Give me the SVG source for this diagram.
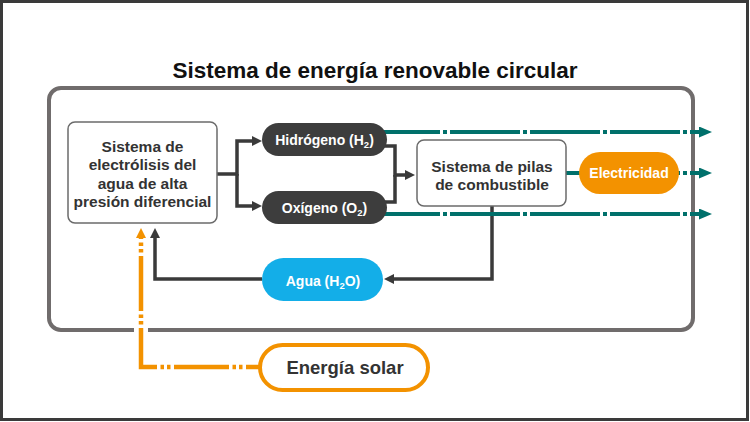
<svg xmlns="http://www.w3.org/2000/svg" width="750" height="422" viewBox="0 0 750 422">
<style>
text{font-family:"Liberation Sans",Arial,sans-serif;font-weight:700;text-anchor:middle}
.dk{fill:none;stroke:#3a3a3a;stroke-width:3.5;stroke-linejoin:miter}
.tl{fill:none;stroke:#00706b;stroke-width:4;stroke-dasharray:70 3 4 3}
.or{fill:none;stroke:#f39200;stroke-width:4.5;stroke-dasharray:55 3.5 3.5 3 3.5 3.5;stroke-dashoffset:39;stroke-linejoin:miter}
.box{fill:#fff;stroke:#6b6b6b;stroke-width:1.5}
.lbl{fill:#333;font-size:15.5px}
.wt{fill:#fff;font-size:14px}
</style>
<defs>
<marker id="ad" markerUnits="userSpaceOnUse" markerWidth="10" markerHeight="10" refX="4" refY="5" orient="auto"><path d="M0,0 L10,5 L0,10 z" fill="#3a3a3a"/></marker>
<marker id="at" markerUnits="userSpaceOnUse" markerWidth="13" markerHeight="11" refX="5" refY="5.5" orient="auto"><path d="M0,0 L13,5.5 L0,11 z" fill="#00706b"/></marker>
<marker id="ao" markerUnits="userSpaceOnUse" markerWidth="10" markerHeight="10" refX="4" refY="5" orient="auto"><path d="M0,0 L10,5 L0,10 z" fill="#f39200"/></marker>
</defs>
<rect x="0" y="0" width="750" height="422" fill="#fff"/>
<rect x="1.5" y="1.5" width="746" height="418" fill="none" stroke="#3a3a3a" stroke-width="3"/>
<text x="375" y="78" font-size="22.5" fill="#111">Sistema de energía renovable circular</text>
<rect id="frame" x="49" y="88" width="644" height="242" rx="12" fill="none" stroke="#706c6c" stroke-width="4"/>
<g id="connectors">
<path class="dk" d="M217 174 H237 V141 H256" marker-end="url(#ad)"/>
<path class="dk" d="M237 174 V206 H256" marker-end="url(#ad)"/>
<path class="dk" d="M380 146 H395 V175 H409" marker-end="url(#ad)"/>
<path class="dk" d="M380 202 H395 V175"/>
<path class="dk" d="M492 206 V279 H390" marker-end="url(#ad)"/>
<path class="dk" d="M262 279 H155 V234" marker-end="url(#ad)"/>
<path class="tl" d="M383 132 H704" style="stroke-dashoffset:13" marker-end="url(#at)"/>
<path class="tl" d="M383 214 H704" style="stroke-dashoffset:13" marker-end="url(#at)"/>
<path class="tl" d="M566 173 H704" style="stroke-dashoffset:36" marker-end="url(#at)"/>
<rect x="134" y="326" width="14" height="8" fill="#fff"/>
<path class="or" d="M262 367 H141 V234" marker-end="url(#ao)"/>
</g>
<g id="electrolisis">
<rect class="box" x="68" y="122" width="149" height="101" rx="7"/>
<text class="lbl" x="142.5" y="151.5">Sistema de</text>
<text class="lbl" x="142.5" y="170">electrólisis del</text>
<text class="lbl" x="142.5" y="188.5">agua de alta</text>
<text class="lbl" x="142.5" y="207">presión diferencial</text>
</g>
<g id="hidrogeno">
<rect x="262" y="123" width="125" height="33" rx="16.5" fill="#3d3d3d"/>
<text class="wt" x="324.5" y="145">Hidrógeno (H<tspan font-size="9.5" dy="3">2</tspan><tspan dy="-3">)</tspan></text>
</g>
<g id="oxigeno">
<rect x="262" y="191" width="125" height="33" rx="16.5" fill="#3d3d3d"/>
<text class="wt" x="324.5" y="212.5">Oxígeno (O<tspan font-size="9.5" dy="3">2</tspan><tspan dy="-3">)</tspan></text>
</g>
<g id="pilas">
<rect class="box" x="417" y="140" width="149" height="66" rx="7"/>
<text class="lbl" x="492" y="172" font-size="15">Sistema de pilas</text>
<text class="lbl" x="492" y="190" font-size="15">de combustible</text>
</g>
<g id="electricidad">
<rect x="579" y="152" width="100" height="42" rx="21" fill="#f39200"/>
<text class="wt" x="629" y="178">Electricidad</text>
</g>
<g id="agua">
<rect x="262" y="258" width="121" height="43" rx="21.5" fill="#13aee8"/>
<text class="wt" x="323" y="285.5">Agua (H<tspan font-size="9.5" dy="3">2</tspan><tspan dy="-3">O)</tspan></text>
</g>
<g id="solar">
<rect x="260" y="345" width="168" height="45" rx="22.5" fill="#fff" stroke="#f39200" stroke-width="4"/>
<text x="345" y="374" font-size="18.5" fill="#333">Energía solar</text>
</g>
</svg>
